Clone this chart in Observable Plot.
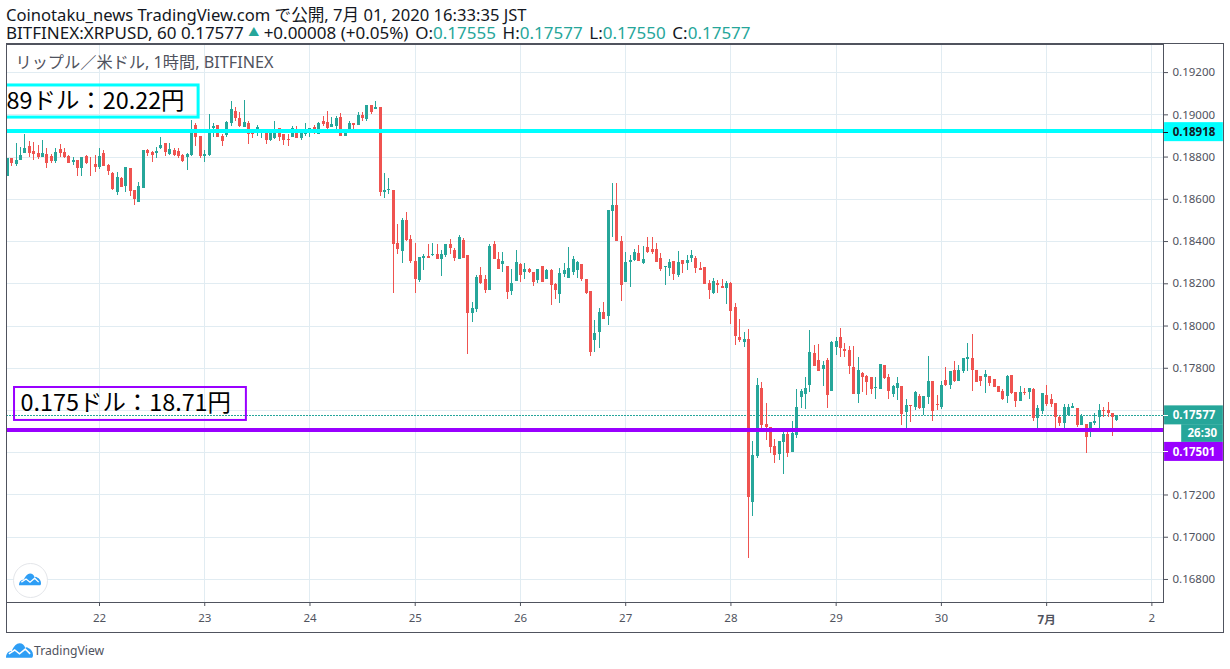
<!DOCTYPE html>
<html lang="ja">
<head>
<meta charset="utf-8">
<script src="https://cdn.jsdelivr.net/npm/d3@7"></script>
<script src="https://cdn.jsdelivr.net/npm/@observablehq/plot@0.6"></script>
<style>
  html,body{margin:0;padding:0;background:#fff;width:1230px;height:669px;overflow:hidden}
  body{position:relative;font-family:"Noto Sans","Noto Sans CJK JP",sans-serif;color:#131722}
  #head{position:absolute;left:6px;top:6px;line-height:17px;white-space:nowrap}
  #l1{font-size:16.6px}
  #l2{font-size:17px}
  #head .t{color:#26a69a}
  #head .k{margin-left:2.25px}
  #head .tri{color:#26a69a;font-size:11px;vertical-align:3px}
  #chart{position:absolute;left:0;top:44px}
  #chart svg{display:block}
  #box{position:absolute;left:6px;top:43px;width:1216px;height:588px;border:1px solid #50535e;pointer-events:none}
  #foot{position:absolute;left:34px;top:642px;font-size:12.2px;line-height:17px;color:#50535e}
  .logo{position:absolute}
  #badge{position:absolute;left:13px;top:563px;width:33px;height:33px;border:1px solid #e4e6ea;border-radius:50%;background:#fff}
</style>
</head>
<body>
<div id="head">
  <div id="l1"></div>
  <div id="l2"></div>
</div>
<div id="chart"></div>
<div id="box"></div>
<div id="badge"></div>
<svg class="logo" style="left:19px;top:572px" width="22" height="14" viewBox="0 0 28 16"><path fill="#2e9ef5" d="M0 16C0 11 3 9 6 9 8 4 11 1 14 1c3 0 5 2 6 5 1-1 2-1 3 0 3 1 5 4 5 7 0 1 0 2-1 3z"/><path fill="none" stroke="#fff" stroke-width="1.6" d="M3 12l6-4 5 4 6-5 5 5"/></svg>
<svg class="logo" style="left:6px;top:642px" width="27" height="16" viewBox="0 0 28 16"><path fill="#2e9ef5" d="M0 16C0 11 3 9 6 9 8 4 11 1 14 1c3 0 5 2 6 5 1-1 2-1 3 0 3 1 5 4 5 7 0 1 0 2-1 3z"/><path fill="none" stroke="#fff" stroke-width="1.6" d="M3 12l6-4 5 4 6-5 5 5"/></svg>
<div id="foot">TradingView</div>
<script>
// Hourly XRP/USD candles, in units of 0.00001 USD. First candle: 21 June 03:00 JST.
const firstHourOffset = -21; // hours from 22 June 00:00
const opens = [
18707,18795,18766,18782,18818,18851,18828,18818,18796,18814,
18804,18781,18837,18823,18804,18776,18785,18748,18804,18771,
18766,18752,18818,18762,18722,18634,18700,18662,18748,18644,
18587,18653,18833,18823,18818,18842,18866,18814,18833,18828,
18809,18800,18809,18951,18896,18803,18806,18933,18948,18897,
18900,18957,19014,18981,18938,18957,18910,18924,18911,18910,
18877,18886,18933,18905,18881,18891,18910,18886,18905,18910,
18938,18905,18967,18962,18938,18943,18985,18896,18927,18957,
18948,18995,18976,19042,19023,19037,18631,18641,18644,18389,
18351,18502,18408,18304,18214,18318,18328,18332,18337,18313,
18332,18384,18356,18313,18403,18332,18058,18077,18238,18219,
18167,18384,18313,18290,18280,18162,18210,18290,18252,18266,
18252,18214,18280,18219,18262,18195,18148,18243,18224,18252,
18262,18290,18219,18162,17931,17969,18063,18044,18540,18569,
18399,18205,18299,18309,18342,18295,18370,18361,18361,18318,
18276,18271,18304,18238,18309,18295,18318,18318,18271,18276,
18200,18153,18200,18186,18176,18200,18087,17945,17921,17935,
17165,17382,17704,17534,17519,17430,17392,17449,17486,17401,
17482,17661,17675,17718,17869,17836,17793,17836,17690,17897,
17945,17888,17883,17803,17675,17775,17760,17756,17704,17699,
17812,17756,17675,17704,17714,17591,17624,17615,17667,17610,
17662,17737,17629,17615,17742,17719,17789,17737,17785,17841,
17846,17789,17761,17756,17761,17747,17714,17690,17667,17766,
17685,17643,17685,17685,17700,17563,17596,17671,17652,17633,
17567,17539,17577,17610,17610,17530,17534,17515,17539,17567,
17600,17600,17586,17555];
const highs = [
18792,18795,18864,18844,18908,18875,18867,18855,18880,18842,
18812,18842,18859,18842,18809,18800,18785,18800,18809,18800,
18809,18842,18833,18766,18729,18729,18705,18752,18748,18644,
18681,18833,18837,18828,18847,18894,18866,18866,18842,18842,
18814,18818,18974,18960,18896,18830,19000,18957,18948,18908,
18967,19061,19037,19009,19066,18967,18927,18948,18924,18927,
18927,18967,18933,18908,18908,18943,18943,18927,18957,18933,
18948,18962,18990,19014,18985,18990,19004,18924,18967,18957,
19009,19009,19042,19042,19061,19037,18721,18697,18644,18479,
18507,18536,18427,18389,18323,18337,18384,18389,18384,18356,
18384,18408,18365,18427,18413,18332,18110,18238,18276,18238,
18384,18399,18347,18347,18280,18266,18356,18295,18295,18271,
18252,18266,18280,18266,18266,18200,18271,18295,18370,18328,
18304,18290,18219,18162,18025,18082,18110,18545,18677,18677,
18422,18347,18332,18361,18380,18375,18417,18417,18389,18342,
18280,18313,18304,18351,18309,18332,18356,18328,18299,18276,
18214,18224,18214,18219,18210,18205,18106,18030,17969,17982,
17453,17751,17732,17633,17519,17463,17453,17496,17496,17548,
17699,17699,17756,17978,17907,17912,17831,17845,17926,17945,
17987,17916,17902,17902,17850,17779,17765,17756,17756,17817,
17812,17770,17718,17756,17714,17652,17624,17690,17676,17667,
17856,17737,17671,17737,17804,17785,17832,17813,17846,17917,
17959,17789,17761,17789,17761,17747,17714,17700,17766,17766,
17685,17714,17704,17704,17704,17624,17681,17719,17676,17633,
17572,17629,17629,17633,17610,17581,17534,17544,17586,17629,
17615,17638,17586,17577];
const lows = [
18707,18757,18757,18782,18818,18796,18782,18788,18796,18748,
18770,18770,18800,18795,18771,18762,18710,18710,18766,18707,
18729,18743,18757,18714,18644,18620,18658,18634,18615,18573,
18587,18653,18804,18776,18795,18837,18804,18809,18804,18795,
18776,18738,18804,18851,18793,18774,18803,18893,18893,18850,
18893,18943,18967,18938,18938,18858,18886,18896,18886,18858,
18872,18881,18872,18853,18848,18891,18886,18877,18896,18893,
18905,18905,18943,18929,18938,18927,18896,18896,18927,18927,
18948,18967,18967,19000,19023,18612,18603,18622,18153,18337,
18295,18399,18295,18153,18205,18262,18318,18328,18313,18233,
18323,18337,18304,18313,18318,17865,18016,18063,18195,18153,
18167,18313,18266,18252,18124,18143,18210,18205,18219,18247,
18186,18200,18205,18219,18096,18124,18106,18228,18224,18238,
18224,18210,18148,17855,17874,17893,18030,18002,18417,18399,
18115,18205,18181,18304,18304,18290,18342,18337,18299,18257,
18191,18233,18214,18228,18247,18262,18299,18247,18262,18195,
18124,18148,18153,18176,18101,18006,17907,17921,17898,16900,
17099,17373,17505,17458,17397,17349,17364,17297,17378,17401,
17467,17609,17604,17685,17808,17784,17713,17609,17690,17860,
17850,17850,17770,17675,17633,17685,17671,17675,17652,17699,
17746,17652,17661,17648,17530,17511,17544,17600,17605,17577,
17629,17548,17600,17605,17714,17700,17733,17737,17775,17785,
17690,17733,17714,17681,17714,17709,17685,17648,17633,17676,
17615,17643,17671,17652,17548,17511,17581,17619,17615,17511,
17525,17511,17577,17610,17520,17530,17397,17473,17530,17511,
17567,17567,17478,17550];
const closes = [
18792,18770,18785,18809,18842,18818,18814,18796,18818,18768,
18781,18823,18818,18800,18771,18785,18748,18800,18771,18768,
18752,18804,18757,18733,18648,18705,18658,18752,18639,18601,
18662,18833,18818,18809,18828,18856,18823,18837,18809,18804,
18781,18814,18922,18894,18803,18811,18916,18943,18893,18872,
18962,19023,18981,18943,18962,18905,18905,18938,18924,18877,
18910,18910,18891,18877,18878,18933,18886,18910,18910,18933,
18910,18957,18952,18933,18952,18981,18896,18913,18957,18948,
18995,18981,19042,19009,19037,18631,18641,18645,18384,18361,
18498,18403,18304,18219,18323,18328,18321,18337,18313,18337,
18384,18365,18318,18417,18321,18058,18082,18228,18200,18167,
18375,18313,18266,18304,18158,18200,18299,18238,18266,18252,
18205,18266,18205,18262,18191,18167,18247,18262,18271,18313,
18299,18219,18153,17874,17964,18063,18030,18545,18569,18399,
18191,18299,18309,18347,18304,18313,18347,18347,18299,18266,
18280,18299,18243,18299,18290,18309,18332,18271,18262,18195,
18167,18210,18191,18176,18200,18068,17950,17931,17936,17189,
17387,17718,17529,17519,17425,17387,17453,17486,17397,17491,
17614,17690,17704,17874,17808,17784,17812,17671,17921,17926,
17893,17879,17808,17675,17789,17756,17732,17699,17708,17817,
17751,17690,17713,17728,17581,17624,17619,17685,17610,17667,
17737,17596,17624,17719,17719,17785,17737,17789,17846,17851,
17789,17733,17737,17770,17728,17709,17685,17652,17761,17681,
17643,17685,17681,17704,17563,17610,17681,17629,17629,17567,
17539,17615,17615,17619,17530,17572,17473,17544,17548,17600,
17596,17586,17567,17577];

const priceTicks = [0.168,0.170,0.172,0.174,0.176,0.178,0.180,0.182,0.184,0.186,0.188,0.190,0.192];
const hiddenPriceTicks = [0.174,0.176]; // covered by the price badges in the reference
const dayLabels = ["22","23","24","25","26","27","28","29","30","7月","2"];
const resistance = 0.18918, support = 0.17501, lastPrice = 0.17577;
const headerLine1 = "Coinotaku_news TradingView.com で公開, 7月 01, 2020 16:33:35 JST";
const symbolText = "BITFINEX:XRPUSD, 60 0.17577";
const changeText = "+0.00008 (+0.05%)";
const ohlc = [["O:","0.17555"],["H:","0.17577"],["L:","0.17550"],["C:","0.17577"]];
const seriesTitle = "リップル／米ドル, 1時間, BITFINEX";
const noteHigh = "89ドル：20.22円";
const noteLow = "0.175ドル：18.71円";

const UP = "#26a69a", DOWN = "#ef5350", CYAN = "#00ffff", PURPLE = "#9900ff", GRID = "#e1ecf2", AXIS = "#50535e";
const hour = h => new Date(Date.UTC(2020, 5, 22) + h * 3600000);
const usd = v => v / 1e5;
const crisp = {shapeRendering: "crispEdges"};

document.getElementById("l1").textContent = headerLine1;
document.getElementById("l2").innerHTML = symbolText + ' <span class="tri">▲</span> ' + changeText + " " +
  ohlc.map(([k, v]) => '<span class="k">' + k + '</span><span class="t">' + v + "</span>").join(" ");

const candles = opens.map((o, i) => ({
  t: hour(firstHourOffset + i),
  o: usd(o), h: usd(highs[i]), l: usd(lows[i]), c: usd(closes[i]),
  color: closes[i] >= o ? UP : DOWN
}));
const dayTicks = dayLabels.map((d, i) => ({t: hour(24 * i), label: d, bold: d === "7月"}));

// Price-axis badges: anchored in price, offset where they would collide as in the source.
const badges = [
  {y: resistance, h: 0.00045, x0: 242.9, text: "0.18918", fill: CYAN, color: "#131722", tick: true},
  {y: lastPrice,  h: 0.00045, x0: 242.9, text: "0.17577", fill: UP, color: "#fff", tick: true},
  {y: 0.17491,    h: 0.00042, x0: 246.8, text: "26:30", fill: UP, color: "#fff", tick: false},
  {y: 0.17404,    h: 0.00045, x0: 242.9, text: "0.17501", fill: PURPLE, color: "#fff", tick: true}
];
const badgeRight = 256.3;

const plot = Plot.plot({
  width: 1230, height: 588,
  marginLeft: 6, marginRight: 67, marginTop: 0, marginBottom: 30,
  style: {fontFamily: '"Noto Sans","Noto Sans CJK JP",sans-serif', background: "transparent", overflow: "visible"},
  x: {type: "utc", domain: [hour(-21.21), hour(242.65)], axis: null},
  y: {type: "linear", domain: [0.16691, 0.19333], axis: null},
  marks: [
    Plot.gridX(dayTicks.map(d => d.t), {stroke: GRID, strokeOpacity: 1, strokeWidth: 1, ...crisp}),
    Plot.gridY(priceTicks, {stroke: GRID, strokeOpacity: 1, strokeWidth: 1, ...crisp}),
    Plot.ruleY([lastPrice], {stroke: UP, strokeWidth: 1, strokeDasharray: "2,1", ...crisp}),
    Plot.ruleX(candles, {x: "t", y1: "l", y2: "h", stroke: "color", strokeWidth: 1, strokeOpacity: 1, ...crisp}),
    Plot.ruleX(candles, {x: "t", y1: "o", y2: "c", stroke: "color", strokeWidth: 3, strokeOpacity: 1, ...crisp}),
    Plot.ruleY([resistance], {stroke: CYAN, strokeWidth: 4, dy: -1, ...crisp}),
    Plot.ruleY([support], {stroke: PURPLE, strokeWidth: 4, dy: -1, ...crisp}),
    Plot.frame({stroke: AXIS, strokeWidth: 1}),
    // annotation boxes
    Plot.rect([{x1: hour(-23), x2: hour(22.6), y1: 0.18987, y2: 0.19139}], {x1: "x1", x2: "x2", y1: "y1", y2: "y2", fill: "none", stroke: CYAN, strokeWidth: 3, clip: true}),
    Plot.rect([{x1: hour(-19.38), x2: hour(33.5), y1: 0.17553, y2: 0.17709}], {x1: "x1", x2: "x2", y1: "y1", y2: "y2", fill: "none", stroke: PURPLE, strokeWidth: 2}),
    Plot.text([noteHigh], {x: () => hour(-21.2), y: () => 0.19065, text: d => d, textAnchor: "start", fontSize: 23.4, fill: "#000", fontFamily: '"Noto Sans CJK JP"'}),
    Plot.text([noteLow], {x: () => hour(-18), y: () => 0.17633, text: d => d, textAnchor: "start", fontSize: 23.4, fill: "#000", fontFamily: '"Noto Sans CJK JP"'}),
    Plot.text([seriesTitle], {frameAnchor: "top-left", dx: 9, dy: 12, text: d => d, fontSize: 16.2, fill: AXIS}),
    // y axis
    Plot.axisY(priceTicks.filter(p => !hiddenPriceTicks.includes(p)), {anchor: "right", tickSize: 4, tickPadding: 5, tickFormat: d3.format(".5f"), fontSize: 11.5, color: AXIS, stroke: AXIS, label: null}),
    // x axis
    Plot.axisX(dayTicks.map(d => d.t), {anchor: "bottom", tickSize: 4, tickPadding: 7, fontSize: 11.5, color: AXIS, stroke: AXIS, label: null,
      tickFormat: t => { const d = dayTicks.find(e => +e.t === +t); return d.bold ? "" : d.label; }}),
    Plot.text(dayTicks.filter(d => d.bold), {x: "t", frameAnchor: "bottom", dy: 21, text: "label", fontSize: 11.5, fontWeight: 700, fill: AXIS}),
    // badges
    Plot.rect(badges, {x1: d => hour(d.x0), x2: () => hour(badgeRight), y1: d => d.y - d.h, y2: d => d.y + d.h, fill: "fill"}),
    Plot.ruleY(badges.filter(d => d.tick), {y: "y", x1: () => hour(242.65), x2: () => hour(243.8), stroke: "color", ...crisp}),
    Plot.text(badges, {x: d => hour(d.tick ? 249.6 : 251.5), y: "y", text: "text", fill: "color", fontSize: 11.5, fontWeight: 700})
  ]
});
document.getElementById("chart").appendChild(plot);
</script>
</body>
</html>
